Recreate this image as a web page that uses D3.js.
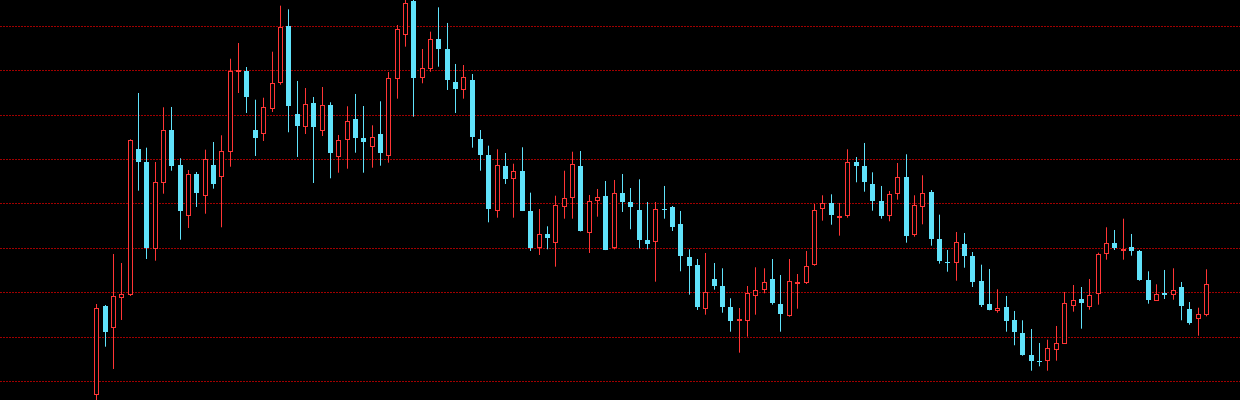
<!DOCTYPE html>
<html>
<head>
<meta charset="utf-8">
<script src="https://cdn.jsdelivr.net/npm/d3@7"></script>
<style>
  html, body { margin: 0; padding: 0; background: #000; overflow: hidden; }
  svg { display: block; }
</style>
</head>
<body>
<svg id="chart" width="1240" height="400"></svg>
<script>
// ---- data (price units) ----
const openVals = [
  6.91,26.90,22.01,28.93,29.54,62.35,59.35,39.91,54.85,66.50,
  58.68,47.48,56.58,51.76,58.68,56.27,61.76,79.95,79.86,66.63,
  65.73,71.52,77.38,90.00,70.17,67.62,72.58,66.72,72.13,60.71,
  64.60,69.04,64.76,63.03,65.66,60.93,78.35,88.20,95.63,78.44,
  80.38,87.00,84.82,77.31,75.87,77.76,64.54,60.93,48.60,58.52,
  55.68,57.39,48.38,40.13,43.13,41.26,49.51,51.40,58.45,43.65,
  50.72,51.76,40.13,52.44,50.27,48.54,41.78,41.48,48.76,49.21,
  45.31,37.95,36.14,26.61,32.99,31.41,26.68,23.75,23.75,29.54,
  30.67,32.99,27.35,24.94,32.18,32.38,36.44,48.83,50.11,47.05,
  47.25,59.29,58.45,54.40,50.50,47.48,52.44,55.91,43.20,49.51,
  52.59,42.00,36.82,36.89,40.94,38.17,32.54,27.35,26.07,26.68,
  23.68,20.82,15.86,14.58,14.58,17.28,18.56,26.97,28.41,26.97,
  29.77,38.69,41.10,39.70,40.13,39.23,32.76,28.32,29.77,29.61,
  31.12,26.23,24.36,25.17
];
const highVals = [
  27.35,27.13,38.62,36.59,64.47,74.90,62.58,59.35,71.68,71.75,
  60.19,57.55,57.10,62.13,63.86,65.37,82.63,86.17,80.76,73.39,
  73.84,84.21,94.58,93.76,77.61,76.03,74.00,76.25,72.81,65.44,
  71.91,74.68,71.97,67.62,73.03,79.63,90.23,96.00,96.00,84.82,
  88.72,94.21,90.68,81.44,81.21,79.18,66.56,63.03,62.22,61.38,
  58.97,62.67,52.44,48.76,44.86,51.76,57.39,61.67,61.83,51.92,
  53.27,55.07,55.30,56.65,53.49,55.45,50.34,50.34,53.95,49.44,
  48.31,39.68,37.49,38.85,36.59,35.40,28.64,26.45,31.41,35.62,
  35.40,37.49,33.89,37.49,34.11,39.30,49.89,51.85,52.07,50.11,
  62.22,60.48,63.64,57.03,53.95,52.82,59.13,61.09,51.85,56.36,
  53.04,47.48,39.52,43.58,43.35,39.07,36.21,35.24,30.67,29.16,
  25.78,23.68,21.72,18.56,19.31,22.40,30.06,31.64,31.18,32.99,
  38.91,44.64,44.03,46.58,43.13,39.52,34.72,31.79,35.02,35.40,
  32.31,27.80,26.52,35.17
];
const lowVals = [
  5.40,17.73,12.71,23.75,29.16,52.89,37.49,37.11,52.21,57.39,
  41.84,44.48,49.21,47.70,53.34,44.64,58.29,74.90,70.40,60.71,
  64.09,70.62,76.77,66.05,60.48,65.66,54.62,65.21,55.68,56.94,
  57.84,61.45,56.94,58.07,58.52,59.20,73.62,85.34,69.56,77.09,
  79.70,80.83,75.58,70.40,73.62,62.58,57.39,45.76,46.80,54.40,
  46.80,48.30,39.30,38.40,39.68,35.76,46.58,46.58,43.70,38.85,
  47.03,39.50,39.68,48.09,44.19,39.91,39.68,32.38,46.58,43.80,
  34.72,29.45,26.00,24.94,30.58,25.39,21.11,16.38,19.99,24.94,
  29.77,27.20,21.11,24.49,26.29,31.86,35.98,46.13,45.22,42.75,
  46.80,54.78,52.66,48.38,46.58,45.99,50.86,41.17,42.52,45.31,
  40.49,36.44,34.63,32.60,35.53,31.18,26.68,25.93,25.39,21.11,
  18.05,15.70,12.32,13.31,12.32,14.58,18.50,25.62,21.79,26.07,
  27.20,37.34,39.52,37.34,38.24,32.60,27.42,28.10,28.48,28.32,
  23.68,22.69,20.21,24.58
];
const closeVals = [
  26.38,21.11,29.09,29.54,64.24,59.35,39.91,54.85,66.50,58.45,
  48.38,56.72,52.21,59.96,54.46,61.90,79.86,80.02,74.07,64.83,
  71.68,77.22,89.78,71.91,67.53,72.49,67.08,72.27,61.31,64.24,
  68.59,64.83,63.93,64.99,61.31,78.28,89.32,95.12,78.35,80.47,
  87.00,84.66,77.76,75.65,78.51,64.83,60.86,48.76,58.68,55.68,
  57.33,48.38,40.13,43.06,42.29,49.60,51.24,58.83,43.74,50.63,
  51.47,39.59,52.37,50.50,49.05,41.84,40.94,48.69,48.60,44.71,
  38.01,35.98,26.75,30.13,31.48,26.75,23.52,23.97,29.77,30.58,
  32.24,27.65,25.17,32.54,32.24,35.98,48.54,50.05,47.48,47.12,
  59.29,58.29,54.85,50.50,47.18,52.14,56.04,42.52,49.66,52.37,
  42.07,37.11,36.66,41.33,38.17,32.31,27.13,25.93,26.45,23.52,
  20.89,15.93,14.44,14.44,17.37,18.63,27.51,28.19,27.42,29.45,
  38.62,41.03,39.97,39.75,39.30,32.76,28.32,29.68,29.38,30.58,
  26.84,23.14,25.17,31.86
];
const gridValues = [10, 20, 30, 40, 50, 60, 70, 80, 90];

// ---- colours ----
const upColor = "#ff3535";
const downColor = "#60e2fa";
const gridColor = "#a00000";

const W = 1240, H = 400;
const svg = d3.select("#chart");
svg.append("rect").attr("width", W).attr("height", H).attr("fill", "#000");

const n = openVals.length;
const idx = d3.range(n);
const x = d3.scalePoint().domain(idx).range([92.13, 1210.17]).padding(0.5);
const y = d3.scaleLinear().domain([5.718, 95.859]).range([H, 0]);

// grid
svg.append("g").selectAll("line").data(gridValues).join("line")
  .attr("x1", 0).attr("x2", W)
  .attr("y1", d => Math.round(y(d)) + 0.5)
  .attr("y2", d => Math.round(y(d)) + 0.5)
  .attr("stroke", gridColor)
  .attr("stroke-width", 1)
  .attr("stroke-dasharray", "2,1");

const candles = idx.map(i => ({
  i, o: openVals[i], h: highVals[i], l: lowVals[i], c: closeVals[i],
  up: closeVals[i] >= openVals[i]
}));

const cx = d => Math.round(x(d.i)) + 0.5;
const g = svg.append("g");
const cg = g.selectAll("g.c").data(candles).join("g").attr("class", "c");

cg.append("line")
  .attr("x1", cx).attr("x2", cx)
  .attr("y1", d => y(d.h)).attr("y2", d => y(d.l))
  .attr("stroke", d => d.up ? upColor : downColor)
  .attr("stroke-width", 1);

cg.append("rect")
  .attr("x", d => d.up ? cx(d) - 2 : cx(d) - 2.5)
  .attr("width", d => d.up ? 4 : 5)
  .attr("y", d => {
    const t = y(Math.max(d.o, d.c));
    return d.up ? Math.round(t) + 0.5 : Math.round(t);
  })
  .attr("height", d => Math.max(1, Math.round(Math.abs(y(d.o) - y(d.c)))))
  .attr("fill", d => d.up ? "#000" : downColor)
  .attr("stroke", d => d.up ? upColor : "none")
  .attr("stroke-width", 1);
</script>
</body>
</html>
